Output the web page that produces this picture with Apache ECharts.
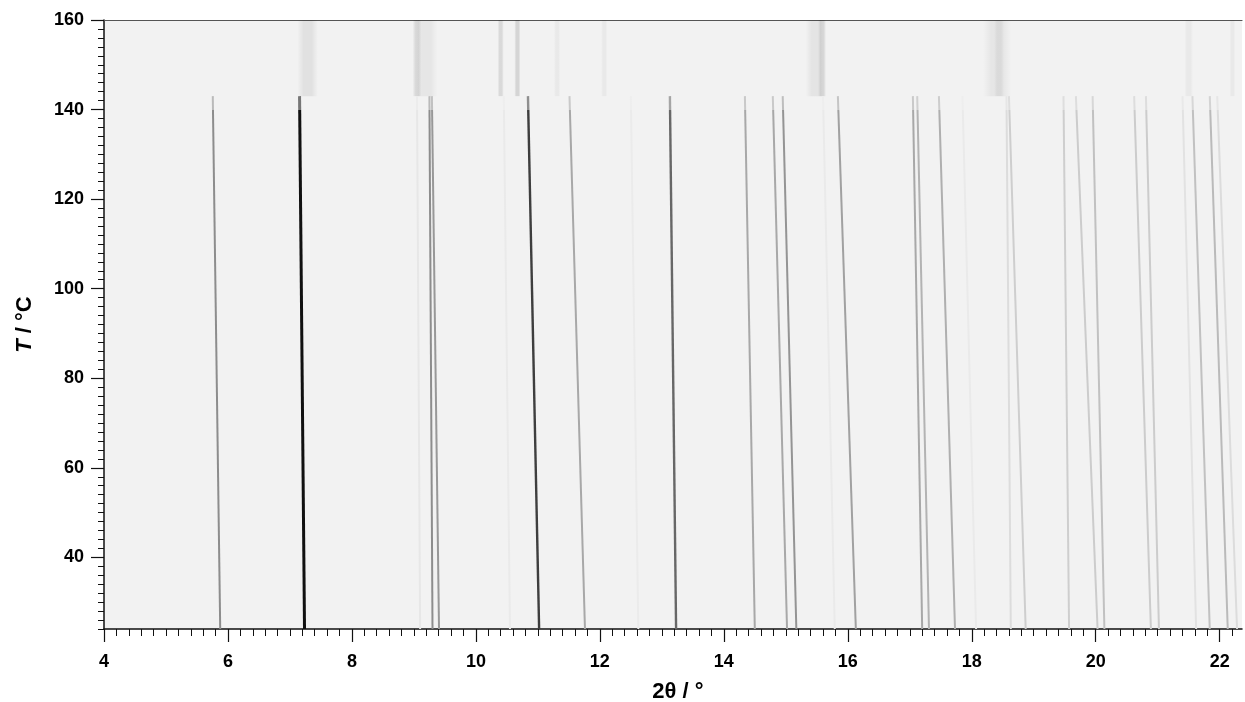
<!DOCTYPE html>
<html>
<head>
<meta charset="utf-8">
<script src="https://cdn.jsdelivr.net/npm/echarts@6/dist/echarts.min.js"></script>
<style>
html,body{margin:0;padding:0;background:#fff;}
#chart{width:1245px;height:702px;}
</style>
</head>
<body>
<div id="chart"></div>
<script>
// ---- data ----
// Temperature range of the measured crystalline pattern (°C)
const tStart = 24;
const tEnd = 143;
// Peak positions (2θ, °) at the lowest and at the highest temperature
const peakAtStart = [5.875, 7.235, 9.10, 9.30, 9.405, 10.55, 11.02, 11.76, 12.62, 13.23, 14.50, 15.02, 15.17, 15.79, 16.13, 17.20, 17.31, 17.73, 18.07, 18.63, 18.87, 19.57, 20.03, 20.14, 20.89, 21.02, 21.62, 21.84, 22.13, 22.28];
const peakAtEnd   = [5.755, 7.155, 9.05, 9.25, 9.29, 10.45, 10.84, 11.51, 12.50, 13.13, 14.34, 14.79, 14.95, 15.60, 15.84, 17.05, 17.12, 17.47, 17.85, 18.56, 18.60, 19.48, 19.68, 19.95, 20.62, 20.81, 21.40, 21.56, 21.84, 21.96];
// Relative peak intensity (0..1)
const peakIntensity = [0.45, 1.0, 0.05, 0.45, 0.40, 0.035, 0.80, 0.33, 0.03, 0.62, 0.33, 0.33, 0.42, 0.035, 0.36, 0.33, 0.28, 0.30, 0.035, 0.10, 0.16, 0.16, 0.17, 0.22, 0.17, 0.17, 0.07, 0.22, 0.25, 0.10];

// High temperature pattern (T > 143 °C): diffuse bands
const meltTStart = 143;
const meltTEnd = 160;
const meltBandFrom = [7.12, 8.98, 9.02, 10.35, 10.62, 11.26, 12.02, 15.32, 15.52, 18.18, 18.36, 21.43, 22.16];
const meltBandTo   = [7.45, 9.12, 9.38, 10.45, 10.72, 11.36, 12.12, 15.65, 15.65, 18.64, 18.52, 21.57, 22.25];
const meltBandIntensity = [0.07, 0.10, 0.05, 0.10, 0.12, 0.04, 0.04, 0.06, 0.09, 0.05, 0.05, 0.04, 0.04];

// Axis ticks
const xMajorTicks = [4, 6, 8, 10, 12, 14, 16, 18, 20, 22];
const yMajorTicks = [40, 60, 80, 100, 120, 140, 160];
const xMinorTicks = [];
for (let k = 0; k <= 91; k++) xMinorTicks.push(+(4 + k * 0.2).toFixed(1));
const yMinorTicks = [];
for (let k = 0; k <= 68; k++) yMinorTicks.push(24 + k * 2);

// ---- styling helpers ----
function grayLevel(v) { return Math.round(242 - 225 * v); }
function rgb(g) { return 'rgb(' + g + ',' + g + ',' + g + ')'; }
const FONT = '"Liberation Sans", Arial, sans-serif';

const series = [];
peakAtStart.forEach((x0, i) => {
  const v = peakIntensity[i];
  const full = rgb(grayLevel(v));
  const light = rgb(grayLevel(v * 0.55));
  series.push({
    type: 'line',
    silent: true,
    symbol: 'none',
    animation: false,
    z: 2 + Math.round(v * 10),
    lineStyle: {
      color: new echarts.graphic.LinearGradient(0, 0, 0, 1, [
        { offset: 0, color: light },
        { offset: 0.03, color: light },
        { offset: 0.031, color: full },
        { offset: 1, color: full }
      ]),
      width: v >= 0.9 ? 3 : (v >= 0.6 ? 2.4 : 2),
      cap: 'butt'
    },
    data: [[x0, tStart], [peakAtEnd[i], tEnd]]
  });
});

// melt bands as mark areas with soft edges
series.push({
  type: 'line',
  silent: true,
  animation: false,
  data: [],
  markArea: {
    silent: true,
    data: meltBandFrom.map((a, i) => {
      const c = 'rgba(0,0,0,' + meltBandIntensity[i] + ')';
      return [
        { xAxis: a, yAxis: meltTStart, itemStyle: {
          color: new echarts.graphic.LinearGradient(0, 0, 1, 0, [
            { offset: 0, color: 'rgba(0,0,0,0)' },
            { offset: 0.3, color: c },
            { offset: 0.7, color: c },
            { offset: 1, color: 'rgba(0,0,0,0)' }
          ]) } },
        { xAxis: meltBandTo[i], yAxis: meltTEnd }
      ];
    })
  }
});

const axisColor = '#111';
const option = {
  backgroundColor: '#ffffff',
  animation: false,
  grid: {
    left: 104, right: 3, top: 20, bottom: 73,
    containLabel: false, outerBoundsMode: 'none',
    show: true, backgroundColor: '#f2f2f2', borderWidth: 0
  },
  xAxis: [
    {
      type: 'value', min: 4, max: 22.36, position: 'bottom',
      axisLine: { show: true, lineStyle: { color: axisColor, width: 1.5 } },
      axisTick: { show: true, customValues: xMajorTicks, length: 13, lineStyle: { color: axisColor, width: 1.2 } },
      axisLabel: { customValues: xMajorTicks, margin: 24, color: '#000', fontSize: 18, fontWeight: 'bold', fontFamily: FONT },
      splitLine: { show: false },
      name: '2θ / °', nameLocation: 'middle', nameGap: 52,
      nameTextStyle: { color: '#000', fontSize: 22, fontWeight: 'bold', fontFamily: FONT, padding: [0, 0, 0, 10] }
    },
    {
      type: 'value', min: 4, max: 22.36, position: 'bottom',
      axisLine: { show: false },
      axisTick: { show: true, customValues: xMinorTicks, length: 7, lineStyle: { color: axisColor, width: 1 } },
      axisLabel: { show: false },
      splitLine: { show: false }
    },
    {
      type: 'value', min: 4, max: 22.36, position: 'top',
      axisLine: { show: true, lineStyle: { color: '#555', width: 1.2 } },
      axisTick: { show: false },
      axisLabel: { show: false },
      splitLine: { show: false }
    }
  ],
  yAxis: [
    {
      type: 'value', min: 24, max: 160, position: 'left',
      axisLine: { show: true, lineStyle: { color: axisColor, width: 1.5 } },
      axisTick: { show: true, customValues: yMajorTicks, length: 13, lineStyle: { color: axisColor, width: 1.2 } },
      axisLabel: { customValues: yMajorTicks, margin: 20, color: '#000', fontSize: 18, fontWeight: 'bold', fontFamily: FONT },
      splitLine: { show: false },
      name: '{it|T} / °C', nameLocation: 'middle', nameGap: 68,
      nameTextStyle: {
        color: '#000', fontSize: 22, fontWeight: 'bold', fontFamily: FONT,
        rich: { it: { fontStyle: 'italic', fontWeight: 'bold', fontSize: 22, fontFamily: FONT, color: '#000' } }
      }
    },
    {
      type: 'value', min: 24, max: 160, position: 'left',
      axisLine: { show: false },
      axisTick: { show: true, customValues: yMinorTicks, length: 6, lineStyle: { color: axisColor, width: 1 } },
      axisLabel: { show: false },
      splitLine: { show: false }
    }
  ],
  series: series
};

const chart = echarts.init(document.getElementById('chart'), null, { renderer: 'canvas' });
chart.setOption(option);
</script>
</body>
</html>
